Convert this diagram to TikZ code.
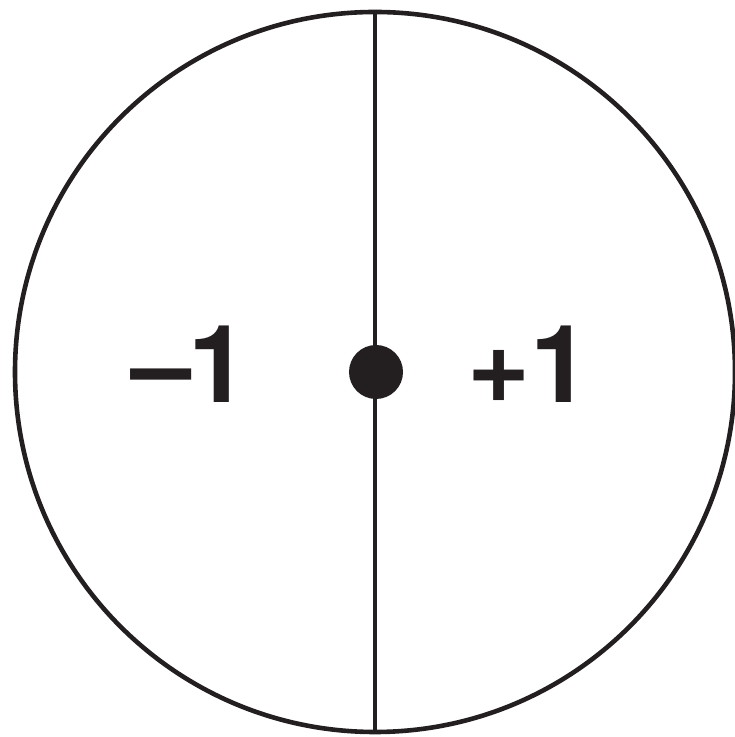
\documentclass[tikz,border=0pt]{standalone}
\usepackage{fontspec}
\setmainfont{TeX Gyre Heros}
\definecolor{inkblack}{RGB}{35, 31, 32}
\usetikzlibrary{positioning}
\tikzset{
	rim/.style={circle, draw=inkblack, line width=2.3pt, minimum size=360pt, inner sep=0pt},
	hub/.style={circle, fill=inkblack, minimum size=27pt, inner sep=0pt},
	charge/.style={inner sep=0pt, text=inkblack, font=\fontsize{54}{58}\selectfont\bfseries},
	divider/.style={draw=inkblack, line width=2.3pt},
}

\begin{document}
\begin{tikzpicture}[x=0.5pt, y=0.5pt]
		\useasboundingbox (0,0) rectangle (734,737);
		\node[rim] (disk) at (375,365) {};
		\node[hub] (center) at (376,365) {};
		\node[charge] (minus) at (190,373) {–\kern-2pt1};
		\node[charge] (plus) at (529,373) {+1};
		\draw[divider] (disk.north) -- (disk.south);
	\end{tikzpicture}
\end{document}
